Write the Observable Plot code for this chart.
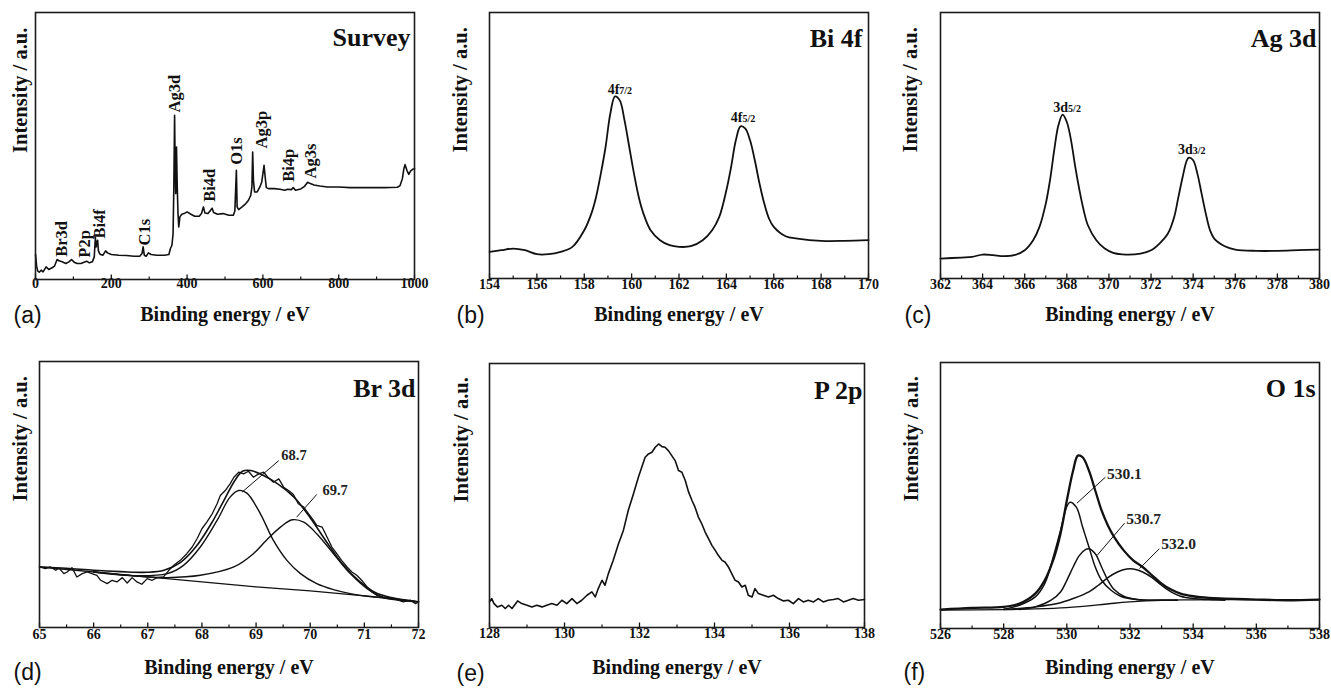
<!DOCTYPE html>
<html><head><meta charset="utf-8">
<script src="https://cdn.jsdelivr.net/npm/d3@7"></script>
<script src="https://cdn.jsdelivr.net/npm/@observablehq/plot@0.6"></script>
<style>
body{margin:0;background:#fff}
#fig{position:relative;width:1331px;height:692px;overflow:hidden}
#fig svg{position:absolute;overflow:visible}
</style>
</head><body><div id="fig"></div>
<script>
// ---------- DATA (binding energy eV, intensity a.u.) ----------
const surveyData = [[0,76],[3,40],[6,25],[10,22],[15,28],[20,23],[28,38],[35,30],[45,36],[50,40],[57,60],[62,56],[70,53],[80,48],[88,53],[95,60],[102,52],[110,48],[120,48],[128,52],[135,55],[142,50],[150,53],[155,68],[158,126],[160,98],[162,113],[164,118],[166,86],[170,76],[178,73],[185,86],[190,80],[200,75],[220,73],[240,72],[260,70],[275,70],[281,78],[284,98],[287,73],[292,70],[298,80],[305,75],[320,73],[340,73],[352,75],[356,93],[360,103],[363,138],[365,278],[367,493],[368.5,338],[370,258],[372,398],[374,278],[376,198],[378,158],[381,188],[386,196],[392,198],[400,203],[410,196],[420,190],[432,190],[438,198],[443,218],[447,200],[455,198],[462,208],[466,214],[470,201],[480,196],[495,198],[510,193],[522,193],[526,206],[530,328],[532,218],[536,210],[545,218],[555,228],[562,238],[568,253],[571,278],[573,383],[575,298],[578,263],[585,263],[592,278],[597,293],[600,318],[603,343],[606,308],[609,276],[615,273],[630,273],[645,271],[658,268],[665,271],[675,270],[680,276],[686,268],[700,272],[710,280],[718,292],[725,288],[735,284],[750,281],[770,278],[800,278],[830,276],[850,276],[880,276],[920,276],[955,277],[962,282],[968,303],[972,333],[975,345],[980,328],[985,316],[990,326],[995,331],[1000,333]];
const surveyLabels = [
  {e:70,v:122,t:"Br3d"},{e:129,v:107,t:"P2p"},{e:169,v:167,t:"Bi4f"},{e:287,v:142,t:"C1s"},
  {e:367,v:558,t:"Ag3d"},{e:459,v:283,t:"Bi4d"},{e:532,v:386,t:"O1s"},{e:598,v:450,t:"Ag3p"},
  {e:668,v:343,t:"Bi4p"},{e:725,v:356,t:"Ag3s"}];

const bi4fData = [[154,80],[154.5,85],[155,90],[155.5,85],[156,73],[156.5,73],[157,80],[157.5,95],[158,145],[158.3,195],[158.5,245],[158.7,315],[158.9,395],[159.1,495],[159.3,547],[159.5,535],[159.7,475],[159.9,395],[160.1,315],[160.3,245],[160.5,195],[160.8,145],[161.2,115],[161.6,100],[162,95],[162.5,97],[163,115],[163.4,145],[163.7,185],[164,265],[164.2,335],[164.4,415],[164.6,457],[164.8,450],[165,415],[165.2,355],[165.4,285],[165.6,225],[165.8,180],[166,155],[166.5,127],[167,120],[168,113],[169,113],[170,115]];
const bi4fLabels = [{e:159.48,v:567,main:"4f",sub:"7/2"},{e:164.68,v:483,main:"4f",sub:"5/2"}];

const ag3dData = [[362,60],[363,63],[363.5,65],[364,72],[364.5,70],[365,67],[365.5,70],[366,85],[366.4,115],[366.7,155],[367,225],[367.2,295],[367.4,385],[367.6,460],[367.8,492],[368,470],[368.2,415],[368.4,335],[368.6,265],[368.8,205],[369,160],[369.4,115],[369.8,90],[370.2,77],[370.8,72],[371.5,75],[372,85],[372.4,105],[372.8,135],[373.1,185],[373.3,245],[373.5,305],[373.7,355],[373.8,363],[374,355],[374.2,315],[374.4,255],[374.6,195],[374.8,145],[375,120],[375.5,97],[376,87],[377,83],[378,83],[379,85],[380,87]];
const ag3dLabels = [{e:368.06,v:515,main:"3d",sub:"5/2"},{e:373.98,v:388,main:"3d",sub:"3/2"}];

const br3dRaw = [[65.00,182],[65.11,177],[65.20,182],[65.30,172],[65.36,179],[65.45,162],[65.51,167],[65.60,180],[65.69,152],[65.79,162],[65.88,167],[65.97,162],[66.06,157],[66.13,142],[66.25,132],[66.34,142],[66.43,137],[66.53,150],[66.62,134],[66.71,150],[66.80,137],[66.89,130],[66.99,147],[67.08,142],[67.17,150],[67.29,152],[67.39,172],[67.48,187],[67.60,202],[67.72,222],[67.82,242],[67.91,267],[68.00,297],[68.09,317],[68.19,342],[68.28,372],[68.34,397],[68.43,412],[68.52,432],[68.59,452],[68.68,467],[68.77,462],[68.86,470],[68.95,452],[69.05,462],[69.14,467],[69.23,450],[69.32,437],[69.42,447],[69.51,422],[69.60,412],[69.69,400],[69.78,372],[69.88,362],[69.97,342],[70.06,322],[70.12,307],[70.22,302],[70.31,272],[70.40,242],[70.49,222],[70.58,202],[70.68,182],[70.77,167],[70.86,157],[70.95,142],[71.05,122],[71.14,107],[71.23,97],[71.35,92],[71.48,90],[71.60,84],[71.72,77],[71.85,82],[71.94,72],[72.00,77]];
const br3dFit = [[65,182],[65.5,178],[66,172],[66.5,168],[67,166],[67.3,172],[67.6,195],[67.9,245],[68.2,320],[68.4,380],[68.6,440],[68.75,470],[68.9,472],[69.1,460],[69.4,432],[69.7,392],[70,330],[70.3,258],[70.6,190],[70.9,140],[71.2,105],[71.5,90],[72,77]];
const br3dPeak1 = [[66,167],[66.7,156],[67.36,162],[67.66,187],[67.97,242],[68.28,322],[68.52,392],[68.68,412],[68.83,404],[69.08,342],[69.32,262],[69.57,202],[69.82,162],[70.12,132],[70.43,114],[70.74,102],[71.05,94],[71.35,90],[72,77]];
const br3dPeak2 = [[66,167],[67,152],[67.36,150],[67.97,157],[68.59,182],[68.95,222],[69.2,264],[69.45,302],[69.67,324],[69.88,317],[70.12,282],[70.43,222],[70.74,162],[71.05,117],[71.35,90],[71.66,82],[72,77]];
const br3dBg = [[65,182],[67,152],[69,122],[70,110],[71,95],[72,77]];
const br3dLabels = [{e:69.70,v:517,t:"68.7"},{e:70.46,v:412,t:"69.7"}];
const br3dLeaders = [{e1:68.74,v1:407,e2:69.42,v2:502},{e1:69.75,v1:332,e2:70.12,v2:400}];

const p2pData = [[128.0,77],[128.06,87],[128.12,72],[128.21,62],[128.33,67],[128.42,57],[128.51,67],[128.6,57],[128.75,80],[128.86,72],[129.0,67],[129.13,62],[129.26,67],[129.4,62],[129.53,67],[129.66,72],[129.8,67],[129.93,82],[130.06,72],[130.2,87],[130.33,72],[130.46,82],[130.6,97],[130.73,107],[130.82,92],[130.9,117],[131.0,142],[131.08,127],[131.17,162],[131.3,202],[131.44,252],[131.57,292],[131.7,352],[131.84,402],[131.97,452],[132.06,482],[132.15,512],[132.24,522],[132.33,527],[132.42,542],[132.51,552],[132.6,544],[132.68,542],[132.77,532],[132.86,517],[132.95,502],[133.04,472],[133.13,467],[133.22,442],[133.31,407],[133.4,382],[133.48,362],[133.57,332],[133.66,312],[133.75,287],[133.84,267],[133.93,247],[134.02,232],[134.1,217],[134.2,202],[134.28,197],[134.37,182],[134.46,162],[134.55,142],[134.64,137],[134.73,122],[134.82,127],[134.9,97],[135.0,92],[135.08,117],[135.17,102],[135.3,97],[135.44,92],[135.57,97],[135.7,87],[135.84,80],[135.97,82],[136.1,72],[136.24,87],[136.37,77],[136.5,82],[136.64,77],[136.77,87],[136.9,77],[137.03,82],[137.17,84],[137.3,87],[137.44,77],[137.57,82],[137.7,87],[137.84,82],[138.0,84]];

const o1sFit = [[526,57],[527,62],[528,65],[528.5,75],[529,105],[529.3,145],[529.6,215],[529.8,285],[530,385],[530.2,475],[530.35,520],[530.5,515],[530.7,475],[530.9,415],[531.1,355],[531.3,310],[531.5,275],[531.8,235],[532.1,205],[532.4,185],[532.7,160],[533,135],[533.3,117],[533.6,105],[534,97],[534.5,92],[535,90],[536,87],[537,85],[538,87]];
const o1sPeak1 = [[528,58],[528.5,70],[529,95],[529.3,135],[529.6,225],[529.8,295],[530,367],[530.1,380],[530.3,365],[530.5,305],[530.7,245],[530.9,185],[531.1,145],[531.4,115],[531.7,97],[532,90],[532.5,85],[533,85],[533.5,85]];
const o1sPeak2 = [[528.5,57],[529,65],[529.5,85],[529.8,110],[530,145],[530.2,185],[530.4,220],[530.6,238],[530.7,240],[530.9,225],[531.1,185],[531.3,145],[531.5,117],[531.8,97],[532.2,87],[532.8,85],[533.5,85]];
const o1sPeak3 = [[528,57],[529,65],[529.7,75],[530.2,90],[530.7,110],[531,130],[531.3,153],[531.6,170],[531.9,179],[532.1,179],[532.4,170],[532.7,153],[533,130],[533.3,110],[533.6,97],[534,90],[534.5,87],[535,85]];
const o1sBg = [[526,55],[528,57],[529,59],[530,63],[531,71],[531.5,76],[532,80],[532.5,83],[533,85],[534,86],[536,87],[538,87]];
const o1sLabels = [{e:531.82,v:465,t:"530.1"},{e:532.43,v:328,t:"530.7"},{e:533.54,v:255,t:"532.0"}];
const o1sLeaders = [{e1:530.32,v1:377,e2:531.22,v2:455},{e1:530.96,v1:220,e2:531.83,v2:317},{e1:532.3,v1:180,e2:532.93,v2:240}];

// tick values
const ticksA = [0,200,400,600,800,1000], minorA = [100,300,500,700,900];
const ticksB = [154,156,158,160,162,164,166,168,170], minorB = [155,157,159,161,163,165,167,169];
const ticksC = [362,364,366,368,370,372,374,376,378,380], minorC = [363,365,367,369,371,373,375,377,379];
const ticksD = [65,66,67,68,69,70,71,72], minorD = [65.5,66.5,67.5,68.5,69.5,70.5,71.5];
const ticksE = [128,130,132,134,136,138], minorE = [129,131,133,135,137];
const ticksF = [526,528,530,532,534,536,538], minorF = [527,529,531,533,535,537];

// ---------- DRAWING ----------
const SERIF = "'Liberation Serif','Times New Roman',Times,serif";
const SANS = "'Liberation Sans',Arial,Helvetica,sans-serif";
const INK = "#111";
const fig = document.getElementById("fig");

function panel(o) {
  const innerH = o.height - o.mt - o.mb;
  const marks = [
    Plot.tickX(o.minor, {x: d => d, insetTop: innerH - 2.6, stroke: INK, strokeWidth: 1.2}),
    Plot.tickX(o.major, {x: d => d, insetTop: innerH - 4.5, stroke: INK, strokeWidth: 1.3}),
    Plot.text(o.major, {x: d => d, text: d => String(d), frameAnchor: "bottom", dy: o.tp, fontSize: 14, fontWeight: "bold", fontFamily: SERIF, fill: INK}),
    ...o.marks,
    Plot.frame({stroke: "#1c1c1c", strokeWidth: 1.6}),
    Plot.text([o.title], {frameAnchor: "top-right", textAnchor: "end", dx: o.tdx, dy: o.tdy, fontSize: 26, fontWeight: "bold", fontFamily: SERIF, fill: INK}),
    Plot.text(["Binding energy / eV"], {frameAnchor: "bottom", dy: o.xdy, fontSize: 20, fontWeight: "bold", fontFamily: SERIF, fill: INK}),
    Plot.text(["Intensity / a.u."], {frameAnchor: "left", rotate: -90, dx: o.ydx, dy: o.ydy, fontSize: 20.5, fontWeight: "bold", fontFamily: SERIF, fill: INK}),
    Plot.text([o.tag], {frameAnchor: "bottom-left", textAnchor: "start", dx: o.gdx, dy: o.gdy, fontSize: 23, fontFamily: SANS, fill: INK})
  ];
  const svg = Plot.plot({
    width: o.width, height: o.height,
    marginLeft: o.ml, marginRight: o.mr, marginTop: o.mt, marginBottom: o.mb,
    x: {domain: o.xd, axis: null},
    y: {domain: o.yd, axis: null},
    style: {background: "transparent", overflow: "visible"},
    marks
  });
  svg.style.left = o.left + "px";
  svg.style.top = o.top + "px";
  fig.appendChild(svg);
}

const lineOpts = (w, curve) => ({x: d => d[0], y: d => d[1], stroke: INK, strokeWidth: w, curve: curve || "linear"});
const subLabels = (arr) => [
  Plot.text(arr, {x: "e", y: "v", text: "main", textAnchor: "end", fontSize: 14, fontWeight: "bold", fontFamily: SERIF, fill: INK}),
  Plot.text(arr, {x: "e", y: "v", text: "sub", textAnchor: "start", dy: 1.5, fontSize: 10, fontWeight: "bold", fontFamily: SERIF, fill: INK})
];

// (a) Survey
panel({left: 0, top: 0, width: 440, height: 340, ml: 35, mr: 26, mt: 12, mb: 61,
  xd: [0, 1000], yd: [0, 802], major: ticksA, minor: minorA, tp: 8.5,
  title: "Survey", tdx: -4, tdy: 15, xdy: 41, ydx: -15, ydy: 7, tag: "(a)", gdx: -22, gdy: 43,
  marks: [
    Plot.line(surveyData, lineOpts(1.6)),
    Plot.text(surveyLabels, {x: "e", y: "v", text: "t", rotate: -90, fontSize: 16.5, fontWeight: "bold", fontFamily: SERIF, fill: INK})
  ]});

// (b) Bi 4f
panel({left: 440, top: 0, width: 445, height: 340, ml: 49, mr: 17, mt: 12, mb: 62,
  xd: [154, 170], yd: [0, 799], major: ticksB, minor: minorB, tp: 10,
  title: "Bi 4f", tdx: -6, tdy: 16, xdy: 42, ydx: -29, ydy: 7, tag: "(b)", gdx: -33, gdy: 44,
  marks: [Plot.line(bi4fData, lineOpts(1.8, "catmull-rom")), ...subLabels(bi4fLabels)]});

// (c) Ag 3d
panel({left: 885, top: 0, width: 446, height: 340, ml: 55, mr: 12, mt: 12, mb: 62,
  xd: [362, 380], yd: [0, 799], major: ticksC, minor: minorC, tp: 10,
  title: "Ag 3d", tdx: -3, tdy: 16, xdy: 42, ydx: -30, ydy: 7, tag: "(c)", gdx: -36, gdy: 44,
  marks: [Plot.line(ag3dData, lineOpts(1.8, "catmull-rom")), ...subLabels(ag3dLabels)]});

// (d) Br 3d
panel({left: 0, top: 340, width: 440, height: 352, ml: 39, mr: 22, mt: 21, mb: 65,
  xd: [65, 72], yd: [0, 800], major: ticksD, minor: minorD, tp: 11,
  title: "Br 3d", tdx: -3, tdy: 17, xdy: 46, ydx: -19, ydy: 7, tag: "(d)", gdx: -26, gdy: 52,
  marks: [
    Plot.line(br3dBg, lineOpts(1.3)),
    Plot.line(br3dPeak1, lineOpts(1.4, "catmull-rom")),
    Plot.line(br3dPeak2, lineOpts(1.4, "catmull-rom")),
    Plot.line(br3dFit, lineOpts(1.6, "catmull-rom")),
    Plot.line(br3dRaw, lineOpts(1.3)),
    Plot.link(br3dLeaders, {x1: "e1", y1: "v1", x2: "e2", y2: "v2", stroke: INK, strokeWidth: 1}),
    Plot.text(br3dLabels, {x: "e", y: "v", text: "t", fontSize: 14.5, fontWeight: "bold", fontFamily: SERIF, fill: "#222"})
  ]});

// (e) P 2p
panel({left: 440, top: 340, width: 445, height: 352, ml: 49, mr: 21, mt: 23, mb: 65,
  xd: [128, 138], yd: [0, 794], major: ticksE, minor: minorE, tp: 10,
  title: "P 2p", tdx: -2, tdy: 17, xdy: 46, ydx: -28, ydy: 7, tag: "(e)", gdx: -33, gdy: 53,
  marks: [Plot.line(p2pData, lineOpts(1.6))]});

// (f) O 1s
panel({left: 885, top: 340, width: 446, height: 352, ml: 55, mr: 12, mt: 22, mb: 64,
  xd: [526, 538], yd: [0, 800], major: ticksF, minor: minorF, tp: 10,
  title: "O 1s", tdx: -4, tdy: 16.5, xdy: 45, ydx: -29, ydy: 6, tag: "(f)", gdx: -37, gdy: 51,
  marks: [
    Plot.line(o1sBg, lineOpts(1.3, "catmull-rom")),
    Plot.line(o1sPeak3, lineOpts(1.5, "catmull-rom")),
    Plot.line(o1sPeak2, lineOpts(1.5, "catmull-rom")),
    Plot.line(o1sPeak1, lineOpts(1.5, "catmull-rom")),
    Plot.line(o1sFit, lineOpts(2.3, "catmull-rom")),
    Plot.link(o1sLeaders, {x1: "e1", y1: "v1", x2: "e2", y2: "v2", stroke: INK, strokeWidth: 1}),
    Plot.text(o1sLabels, {x: "e", y: "v", text: "t", fontSize: 15.5, fontWeight: "bold", fontFamily: SERIF, fill: "#222"})
  ]});
</script>
</body></html>
